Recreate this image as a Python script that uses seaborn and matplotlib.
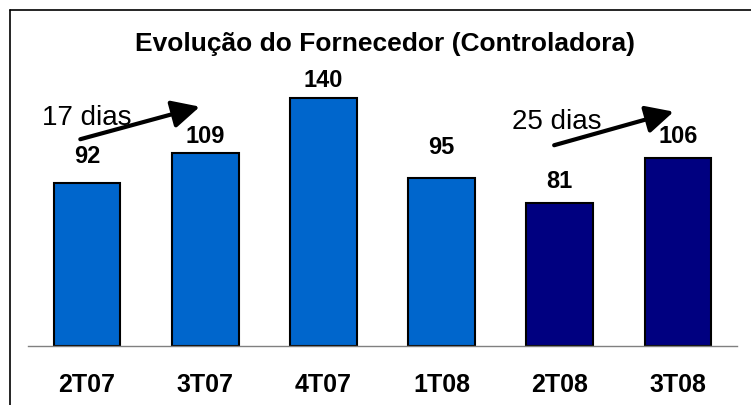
import matplotlib
matplotlib.use('Agg')
import matplotlib.pyplot as plt
from matplotlib.lines import Line2D
import pandas as pd
import seaborn as sns

# dados do gráfico
quarters = ['2T07', '3T07', '4T07', '1T08', '2T08', '3T08']
values = [92, 109, 140, 95, 81, 106]
groups = ['a', 'a', 'a', 'a', 'b', 'b']
notes = ['17 dias', '25 dias']

df = pd.DataFrame({'tri': quarters, 'dias': values, 'grupo': groups})

sns.set_theme(style='white')
plt.rcParams['font.family'] = ['Liberation Sans', 'DejaVu Sans']
plt.rcParams['text.color'] = 'black'
plt.rcParams['xtick.color'] = 'black'

fig = plt.figure(figsize=(7.51, 4.06), dpi=100)
ax = fig.add_axes([28 / 751, 1 - 347 / 406, (737 - 28) / 751, (347 - 60) / 406])

sns.barplot(data=df, x='tri', y='dias', hue='grupo', dodge=False, legend=False,
            palette={'a': '#0066CC', 'b': '#000080'}, width=0.565,
            edgecolor='black', linewidth=1.5, saturation=1, ax=ax)

ax.set_xlim(-0.5, 5.5)
ax.set_ylim(0, 162)
ax.set_xlabel('')
ax.set_ylabel('')
ax.set_yticks([])
for s in ['top', 'right', 'left']:
    ax.spines[s].set_visible(False)
ax.spines['bottom'].set_color('#808080')
ax.spines['bottom'].set_linewidth(1)
ax.tick_params(axis='x', length=0, pad=19)
for lbl in ax.get_xticklabels():
    lbl.set_fontsize(18)
    lbl.set_fontweight('bold')
    lbl.set_color('black')

# rótulos de valor
pads = [16, 6, 7, 20, 11, 11]
bars = sorted([b for c in ax.containers for b in c if b.get_height() > 0],
              key=lambda b: b.get_x())
for b, p in zip(bars, pads):
    ax.annotate(f'{int(b.get_height())}', (b.get_x() + b.get_width() / 2, b.get_height()),
                xytext=(0, p * 0.72), textcoords='offset points',
                ha='center', va='bottom', fontsize=17, fontweight='bold', color='black')

# setas
ax.annotate('', xy=(0.977, 135.5), xytext=(-0.08, 116.3),
            arrowprops=dict(arrowstyle='-|>,head_length=1.4,head_width=0.7', lw=3, color='black'))
ax.annotate('', xy=(4.987, 132.7), xytext=(3.93, 112.9),
            arrowprops=dict(arrowstyle='-|>,head_length=1.4,head_width=0.7', lw=3, color='black'))
ax.text(-0.385, 129.3, notes[0], fontsize=20, va='center', ha='left', color='black')
ax.text(3.60, 127.0, notes[1], fontsize=20, va='center', ha='left', color='black')

fig.text(385 / 751, 1 - 44 / 406, 'Evolução do Fornecedor (Controladora)',
         ha='center', va='center', fontsize=19, fontweight='bold', color='black')

# moldura
fig.add_artist(Line2D([10 / 751, 1], [1 - 11 / 406, 1 - 11 / 406], color='black', lw=1.2))
fig.add_artist(Line2D([10 / 751, 10 / 751], [0, 1 - 11 / 406], color='black', lw=1.2))

fig.savefig('out.png', dpi=100)
